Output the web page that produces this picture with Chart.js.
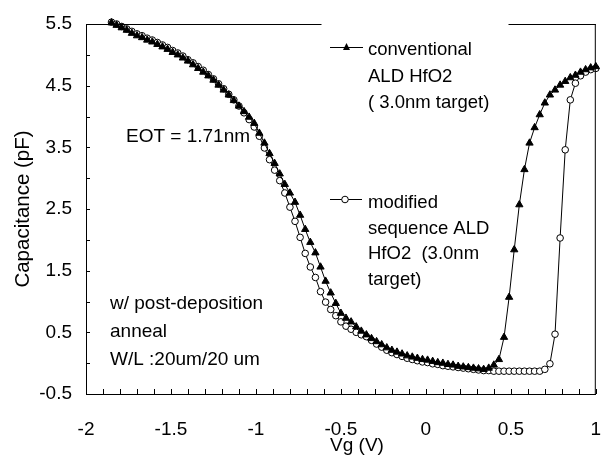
<!DOCTYPE html>
<html>
<head>
<meta charset="utf-8">
<script src="https://cdn.jsdelivr.net/npm/chart.js@4.4.0/dist/chart.umd.min.js"></script>
<style>
  html, body { margin: 0; padding: 0; background: #fff; overflow: hidden; }
  canvas { display: block; }
</style>
</head>
<body>
<canvas id="grafica" width="601" height="457"></canvas>
<script>
/******************************* DATOS *******************************/
// Vg (V)
var vg = [
  -1.85,-1.82,-1.79,-1.76,-1.73,-1.70,-1.67,-1.64,-1.61,-1.58,
  -1.55,-1.52,-1.49,-1.46,-1.43,-1.40,-1.37,-1.34,-1.31,-1.28,
  -1.25,-1.22,-1.19,-1.16,-1.13,-1.10,-1.07,-1.04,-1.01,-0.98,
  -0.95,-0.92,-0.89,-0.86,-0.83,-0.80,-0.77,-0.74,-0.71,-0.68,
  -0.65,-0.62,-0.59,-0.56,-0.53,-0.50,-0.47,-0.44,-0.41,-0.38,
  -0.35,-0.32,-0.29,-0.26,-0.23,-0.20,-0.17,-0.14,-0.11,-0.08,
  -0.05,-0.02,0.01,0.04,0.07,0.10,0.13,0.16,0.19,0.22,
  0.25,0.28,0.31,0.34,0.37,0.40,0.43,0.46,0.49,0.52,
  0.55,0.58,0.61,0.64,0.67,0.70,0.73,0.76,0.79,0.82,
  0.85,0.88,0.91,0.94,0.97,1.00
];
// conventional ALD HfO2 (pF)
var capConvencional = [
  5.52,5.48,5.44,5.40,5.35,5.31,5.28,5.24,5.21,5.17,
  5.13,5.09,5.04,5.00,4.95,4.90,4.84,4.78,4.72,4.66,
  4.59,4.51,4.43,4.35,4.26,4.17,4.08,3.99,3.89,3.73,
  3.57,3.40,3.24,3.07,2.90,2.76,2.61,2.40,2.17,1.96,
  1.79,1.56,1.33,1.14,0.97,0.81,0.73,0.67,0.59,0.52,
  0.46,0.40,0.35,0.30,0.25,0.21,0.18,0.15,0.12,0.10,
  0.08,0.06,0.05,0.03,0.01,0.00,-0.02,-0.03,-0.05,-0.06,
  -0.07,-0.08,-0.09,-0.10,-0.08,-0.03,0.06,0.42,1.07,1.84,
  2.57,3.14,3.57,3.82,4.03,4.22,4.35,4.43,4.51,4.57,
  4.63,4.67,4.72,4.76,4.79,4.81
];
// modified sequence ALD HfO2 (pF)
var capModificada = [
  5.53,5.50,5.46,5.42,5.38,5.34,5.31,5.27,5.24,5.20,
  5.16,5.12,5.07,5.03,4.98,4.92,4.87,4.81,4.75,4.68,
  4.61,4.53,4.45,4.36,4.27,4.17,4.06,3.95,3.83,3.68,
  3.49,3.30,3.13,2.96,2.76,2.53,2.30,2.04,1.78,1.56,
  1.39,1.16,0.99,0.87,0.77,0.67,0.60,0.55,0.50,0.46,
  0.43,0.37,0.31,0.26,0.21,0.17,0.14,0.11,0.08,0.06,
  0.04,0.02,0.01,-0.01,-0.02,-0.04,-0.05,-0.06,-0.07,-0.08,
  -0.09,-0.10,-0.11,-0.12,-0.12,-0.13,-0.13,-0.13,-0.13,-0.13,
  -0.13,-0.13,-0.13,-0.13,-0.13,-0.10,-0.01,0.47,2.03,3.46,
  4.27,4.54,4.66,4.72,4.76,4.78
];
// etiquetas de los ejes
var xEtiquetas = [-2, -1.5, -1, -0.5, 0, 0.5, 1];
var yEtiquetas = [5.5, 4.5, 3.5, 2.5, 1.5, 0.5, -0.5];

var fuente = "'Liberation Sans', Arial, sans-serif";

function puntos(ys) {
  var lista = [];
  for (var i = 0; i < vg.length; i++) lista.push({ x: vg[i], y: ys[i] });
  return lista;
}
function esEtiqueta(lista, v) {
  for (var i = 0; i < lista.length; i++) if (Math.abs(lista[i] - v) < 1e-6) return true;
  return false;
}

/*********************** marco, ticks interiores y textos ***********************/
var extras = {
  id: 'extras',
  afterDatasetsDraw: function(chart) {
    var ctx = chart.ctx, a = chart.chartArea;
    var sx = chart.scales.x, sy = chart.scales.y;
    ctx.save();
    ctx.strokeStyle = '#000';
    ctx.lineWidth = 1;
    ctx.beginPath();
    // borde superior partido por la leyenda
    ctx.moveTo(a.left, 24.5); ctx.lineTo(321.5, 24.5);
    ctx.moveTo(508.5, 24.5); ctx.lineTo(a.right, 24.5);
    ctx.moveTo(a.right - 0.5, 24); ctx.lineTo(a.right - 0.5, a.bottom);
    // ticks hacia dentro
    sx.ticks.forEach(function(t) {
      var px = Math.round(sx.getPixelForValue(t.value)) + 0.5;
      ctx.moveTo(px, a.bottom); ctx.lineTo(px, a.bottom - 5);
    });
    sy.ticks.forEach(function(t) {
      var py = Math.round(sy.getPixelForValue(t.value)) + 0.5;
      ctx.moveTo(a.left, py); ctx.lineTo(a.left + 4, py);
    });
    ctx.stroke();

    // leyenda
    ctx.fillStyle = '#000';
    ctx.beginPath();
    ctx.moveTo(330, 47.5); ctx.lineTo(363, 47.5);
    ctx.moveTo(330, 199.5); ctx.lineTo(362, 199.5);
    ctx.stroke();
    ctx.beginPath();
    ctx.moveTo(346.5, 43); ctx.lineTo(350, 50); ctx.lineTo(343, 50); ctx.closePath();
    ctx.fill();
    ctx.fillStyle = '#fff';
    ctx.beginPath();
    ctx.arc(345, 199.5, 3.3, 0, Math.PI * 2);
    ctx.fill(); ctx.stroke();

    ctx.fillStyle = '#000';
    ctx.textBaseline = 'alphabetic';
    ctx.textAlign = 'left';
    ctx.font = '18.5px ' + fuente;
    ctx.fillText('conventional', 368, 55);
    ctx.fillText('ALD HfO2', 368, 81.5);
    ctx.fillText('( 3.0nm target)', 368, 108);
    ctx.fillText('modified', 368, 208);
    ctx.fillText('sequence ALD', 368, 233.5);
    ctx.fillText('HfO2  (3.0nm', 368, 259);
    ctx.fillText('target)', 368, 284.5);

    // notas
    ctx.font = '19px ' + fuente;
    ctx.fillText('EOT = 1.71nm', 126, 142);
    ctx.fillText('w/ post-deposition', 110, 308.5);
    ctx.fillText('anneal', 110, 337);
    ctx.fillText('W/L :20um/20 um', 110, 365);

    // titulos de ejes
    ctx.textAlign = 'center';
    ctx.fillText('Vg (V)', 357, 451);
    ctx.save();
    ctx.translate(29, 209);
    ctx.rotate(-Math.PI / 2);
    ctx.font = '20.5px ' + fuente;
    ctx.fillText('Capacitance (pF)', 0, 0);
    ctx.restore();
    ctx.restore();
  }
};

var grafica = new Chart(document.getElementById('grafica'), {
  type: 'scatter',
  data: {
    datasets: [{
      label: 'conventional ALD HfO2 ( 3.0nm target)',
      data: puntos(capConvencional),
      showLine: true,
      borderColor: '#000',
      backgroundColor: '#000',
      borderWidth: 1,
      pointStyle: 'triangle',
      pointRadius: 4.2,
      pointBorderWidth: 1,
      clip: false,
      order: 0
    }, {
      label: 'modified sequence ALD HfO2  (3.0nm target)',
      data: puntos(capModificada),
      showLine: true,
      borderColor: '#000',
      backgroundColor: '#fff',
      borderWidth: 1,
      pointStyle: 'circle',
      pointRadius: 3.3,
      pointBorderWidth: 1,
      clip: false,
      order: 1
    }]
  },
  options: {
    responsive: false,
    animation: false,
    devicePixelRatio: 1,
    layout: { padding: { top: 24, right: 3, left: 0, bottom: 0 } },
    plugins: { legend: { display: false }, tooltip: { enabled: false } },
    scales: {
      x: {
        type: 'linear',
        min: -2, max: 1,
        afterFit: function(s) { s.height = 63; s.paddingLeft = 0; s.paddingRight = 0; },
        grid: { display: false, drawTicks: false },
        border: { display: true, color: '#000', width: 1 },
        ticks: {
          stepSize: 0.1,
          autoSkip: false,
          maxRotation: 0,
          padding: 24,
          color: '#000',
          font: { family: fuente, size: 19 },
          callback: function(v) { return esEtiqueta(xEtiquetas, v) ? String(Math.round(v * 10) / 10) : ''; }
        }
      },
      y: {
        min: -0.5, max: 5.5,
        afterFit: function(s) { s.width = 86; s.paddingTop = 0; s.paddingBottom = 0; },
        grid: { display: false, drawTicks: false },
        border: { display: true, color: '#000', width: 1 },
        ticks: {
          stepSize: 0.5,
          autoSkip: false,
          padding: 14,
          color: '#000',
          font: { family: fuente, size: 19 },
          callback: function(v) { return esEtiqueta(yEtiquetas, v) ? v.toFixed(1) : ''; }
        }
      }
    }
  },
  plugins: [extras]
});
</script>
</body>
</html>
